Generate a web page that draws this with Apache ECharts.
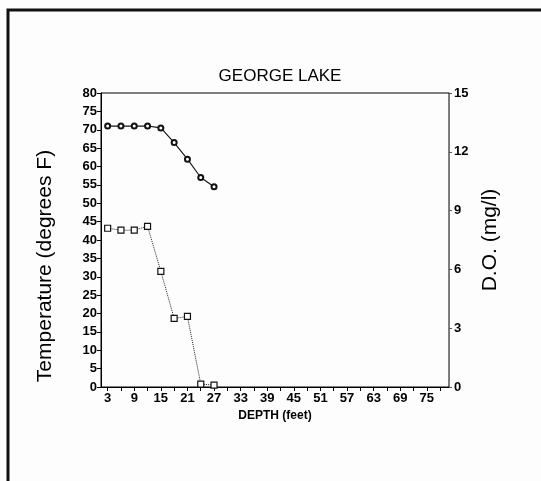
<!DOCTYPE html>
<html>
<head>
<meta charset="utf-8">
<style>
  html, body { margin: 0; padding: 0; background: #fdfdfd; }
  #chart { width: 541px; height: 481px; }
</style>
<script src="https://cdn.jsdelivr.net/npm/echarts@6/dist/echarts.min.js"></script>
</head>
<body>
<div id="chart"></div>
<script>
// Profile readings, George Lake
const depths = [3, 6, 9, 12, 15, 18, 21, 24, 27];
const temperatureF = [71, 71, 71, 71, 70.5, 66.5, 62, 57, 54.5];
const dissolvedOxygen = [8.1, 8.0, 8.0, 8.2, 5.9, 3.5, 3.6, 0.15, 0.1];

// Depth axis: a tick every 3 ft, a label every 6 ft
const depthTicks = [3, 6, 9, 12, 15, 18, 21, 24, 27, 30, 33, 36, 39, 42, 45, 48, 51, 54, 57, 60, 63, 66, 69, 72, 75, 78];
const depthLabels = [3, 9, 15, 21, 27, 33, 39, 45, 51, 57, 63, 69, 75];

const FONT = 'Liberation Sans, Arial, sans-serif';

const chart = echarts.init(document.getElementById('chart'), null, { renderer: 'canvas' });

const tickText = { color: '#000', fontFamily: FONT, fontWeight: 'bold', fontSize: 13 };

chart.setOption({
  backgroundColor: '#fdfdfd',
  animation: false,
  title: {
    text: 'GEORGE LAKE',
    left: 275,
    textAlign: 'center',
    top: 63,
    textStyle: { color: '#000', fontFamily: FONT, fontWeight: 'normal', fontSize: 17 }
  },
  graphic: [{
    type: 'polyline',
    shape: { points: [[8, 481], [8, 10], [541, 10]] },
    style: { stroke: '#111', lineWidth: 3, fill: null },
    silent: true
  }, {
    // left axis title, set a little below the plot's middle
    type: 'text',
    x: 45,
    y: 266,
    rotation: Math.PI / 2,
    style: {
      text: 'Temperature (degrees F)',
      fill: '#000',
      font: '21px ' + FONT,
      align: 'center',
      verticalAlign: 'middle'
    },
    silent: true
  }],
  grid: {
    left: 101, right: 92, top: 93, bottom: 94,
    show: true, borderColor: '#000', borderWidth: 1, backgroundColor: 'transparent'
  },
  xAxis: {
    type: 'value',
    min: 1.5,
    max: 80,
    name: 'DEPTH (feet)',
    nameLocation: 'middle',
    nameGap: 23,
    nameTextStyle: { color: '#000', fontFamily: FONT, fontWeight: 'bold', fontSize: 12 },
    axisLine: { show: true, lineStyle: { color: '#000', width: 1 } },
    axisTick: { show: true, length: 4, customValues: depthTicks, lineStyle: { color: '#000' } },
    axisLabel: Object.assign({ customValues: depthLabels, margin: 5 }, tickText),
    splitLine: { show: false }
  },
  yAxis: [{
    type: 'value',
    min: 0, max: 80, interval: 5,
    axisLine: { show: true, lineStyle: { color: '#000', width: 1 } },
    axisTick: { show: true, length: 4, lineStyle: { color: '#000' } },
    axisLabel: Object.assign({ margin: 4 }, tickText),
    splitLine: { show: false }
  }, {
    type: 'value',
    position: 'right',
    min: 0, max: 15, interval: 3,
    name: 'D.O. (mg/l)',
    nameLocation: 'middle',
    nameGap: 30,
    nameRotate: 90,
    nameTextStyle: { color: '#000', fontFamily: FONT, fontSize: 21 },
    axisLine: { show: true, lineStyle: { color: '#777', width: 1 } },
    axisTick: { show: true, length: 3, lineStyle: { color: '#555' } },
    axisLabel: Object.assign({ margin: 5 }, tickText),
    splitLine: { show: false }
  }],
  series: [{
    name: 'Temperature',
    type: 'line',
    yAxisIndex: 0,
    data: depths.map((d, i) => [d, temperatureF[i]]),
    symbol: 'emptyCircle',
    symbolSize: 5,
    lineStyle: { color: '#111', width: 1.1 },
    itemStyle: { color: '#111', borderColor: '#111', borderWidth: 1.2 }
  }, {
    name: 'Dissolved oxygen',
    type: 'line',
    yAxisIndex: 1,
    data: depths.map((d, i) => [d, dissolvedOxygen[i]]),
    symbol: 'rect',
    symbolSize: 6,
    lineStyle: { color: '#222', width: 1, type: 'dotted' },
    itemStyle: { color: '#fff', borderColor: '#111', borderWidth: 1.2 }
  }]
});
</script>
</body>
</html>
